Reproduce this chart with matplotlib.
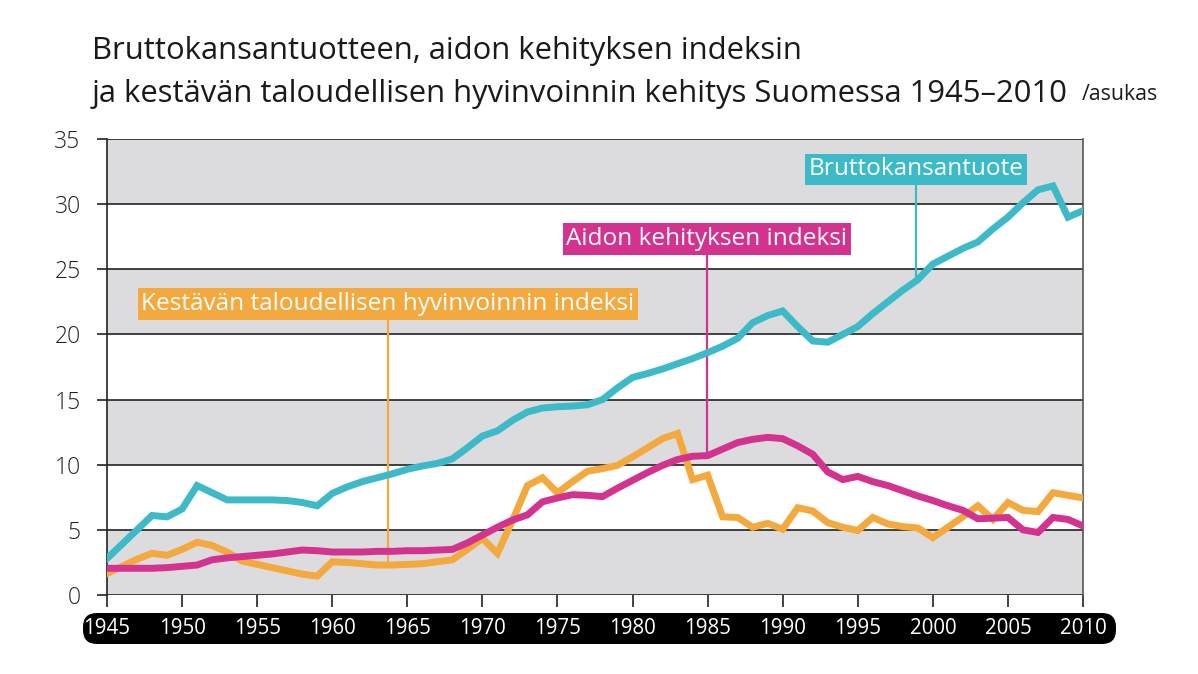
import matplotlib
matplotlib.use("Agg")
import matplotlib.pyplot as plt
from matplotlib.patches import FancyBboxPatch
import numpy as np

plt.rcParams['font.family'] = ['Open Sans', 'DejaVu Sans']

years = list(range(1945, 2011))

bkt = [2.8, 3.9, 5.0, 6.1, 6.0, 6.6, 8.4, 7.85, 7.3, 7.3,
       7.3, 7.3, 7.25, 7.1, 6.85, 7.8, 8.3, 8.7, 9.0, 9.3,
       9.65, 9.9, 10.1, 10.45, 11.3, 12.2, 12.6, 13.4, 14.05, 14.35,
       14.45, 14.5, 14.6, 15.0, 15.9, 16.7, 17.0, 17.35, 17.75, 18.15,
       18.6, 19.1, 19.7, 20.9, 21.45, 21.8, 20.6, 19.5, 19.4, 20.0,
       20.6, 21.6, 22.5, 23.4, 24.2, 25.4, 26.0, 26.6, 27.1, 28.1,
       29.0, 30.1, 31.1, 31.4, 29.0, 29.5]

aki = [2.05, 2.05, 2.05, 2.05, 2.1, 2.2, 2.3, 2.7, 2.85, 2.95,
       3.05, 3.15, 3.3, 3.45, 3.4, 3.3, 3.3, 3.3, 3.35, 3.35,
       3.4, 3.4, 3.45, 3.5, 4.0, 4.6, 5.2, 5.75, 6.15, 7.15,
       7.45, 7.7, 7.65, 7.55, 8.2, 8.8, 9.4, 9.95, 10.4, 10.65,
       10.7, 11.2, 11.7, 11.95, 12.1, 12.0, 11.45, 10.8, 9.45, 8.86,
       9.1, 8.7, 8.4, 8.0, 7.6, 7.25, 6.85, 6.5, 5.85, 5.9,
       5.95, 5.0, 4.8, 5.95, 5.8, 5.3]

isew = [1.65, 2.2, 2.75, 3.2, 3.05, 3.5, 4.05, 3.8, 3.3, 2.6,
        2.35, 2.1, 1.85, 1.6, 1.45, 2.55, 2.5, 2.4, 2.3, 2.3,
        2.35, 2.4, 2.55, 2.7, 3.5, 4.35, 3.2, 5.7, 8.4, 9.0,
        7.85, 8.7, 9.5, 9.7, 9.95, 10.6, 11.3, 12.0, 12.4, 8.85,
        9.2, 6.0, 5.95, 5.2, 5.5, 5.05, 6.7, 6.45, 5.55, 5.2,
        4.95, 5.95, 5.45, 5.25, 5.15, 4.4, 5.2, 6.0, 6.85, 5.8,
        7.1, 6.5, 6.4, 7.85, 7.65, 7.45]

title1 = "Bruttokansantuotteen, aidon kehityksen indeksin"
title2 = "ja kestävän taloudellisen hyvinvoinnin kehitys Suomessa 1945–2010"
unit_label = "/asukas"
labels = ["Bruttokansantuote", "Aidon kehityksen indeksi",
          "Kestävän taloudellisen hyvinvoinnin indeksi"]
yticks = [0, 5, 10, 15, 20, 25, 30, 35]
xticks = list(range(1945, 2011, 5))

c_bkt = "#3DBAC7"
c_aki = "#D3338F"
c_isew = "#F4A93E"
grey = "#DCDCDE"
ink = "#222222"

W, H = 1198, 674
fig = plt.figure(figsize=(W / 100, H / 100), dpi=100)
fig.patch.set_facecolor("white")

# overlay axes in pixel coordinates for the black tick-label bar
bg = fig.add_axes([0, 0, 1, 1], zorder=0)
bg.set_xlim(0, W)
bg.set_ylim(H, 0)
bg.axis("off")
bar = FancyBboxPatch((83, 613), 1116 - 83, 31,
                     boxstyle="round,pad=0,rounding_size=14",
                     fc="black", ec="none")
bg.add_patch(bar)

L, R, T, B = 107, 1083, 139, 595
ax = fig.add_axes([L / W, (H - B) / H, (R - L) / W, (B - T) / H], zorder=1)
ax.set_xlim(1945, 2010)
ax.set_ylim(0, 35)

for lo in [0, 10, 20, 30]:
    ax.axhspan(lo, lo + 5, color=grey, lw=0, zorder=0)
for yv in yticks:
    ax.axhline(yv, color=ink, lw=1.2, zorder=1)

ax.plot(years, isew, color=c_isew, lw=5, solid_joinstyle="miter", zorder=3)
ax.plot(years, aki, color=c_aki, lw=5, solid_joinstyle="miter", zorder=4)
ax.plot(years, bkt, color=c_bkt, lw=5, solid_joinstyle="miter", zorder=5)

# annotation boxes with connector lines
ann = [
    (labels[2], 1963.7, 22.33, isew, c_isew),
    (labels[1], 1984.95, 27.32, aki, c_aki),
    (labels[0], 1998.9, 32.66, bkt, c_bkt),
]
for txt, xv, yv, series, col in ann:
    yend = np.interp(xv, years, series)
    ax.plot([xv, xv], [yv, yend], color=col, lw=1.6, zorder=2.5,
            solid_capstyle="butt")
    ax.text(xv, yv, txt, ha="center", va="center", color="white",
            fontsize=17.6, zorder=6,
            bbox=dict(boxstyle="square,pad=0.15", fc=col, ec="none"))

for s in ["top", "bottom"]:
    ax.spines[s].set_visible(False)
ax.spines["left"].set_color(ink)
ax.spines["left"].set_linewidth(1.2)
ax.spines["right"].set_color("#555555")
ax.spines["right"].set_linewidth(1.2)

ax.set_yticks(yticks)
ax.set_yticklabels([str(v) for v in yticks], fontweight="light")
ax.set_xticks(xticks)
ax.set_xticklabels([str(v) for v in xticks])
ax.tick_params(axis="y", length=7, width=1.2, color=ink, pad=12,
               labelsize=16.5, labelcolor=ink)
ax.tick_params(axis="x", length=8.5, width=1.2, color=ink, pad=8,
               labelsize=14.8, labelcolor="white")

fig.text(92 / W, 1 - 59 / H, title1, fontsize=22.3, color="#1a1a1a",
         va="baseline", ha="left")
fig.text(92 / W, 1 - 102 / H, title2, fontsize=22.3, color="#1a1a1a",
         va="baseline", ha="left")
fig.text(1082 / W, 1 - 100 / H, unit_label, fontsize=15.3, color="#1a1a1a",
         va="baseline", ha="left")

fig.savefig("out.png", dpi=100, facecolor="white")
